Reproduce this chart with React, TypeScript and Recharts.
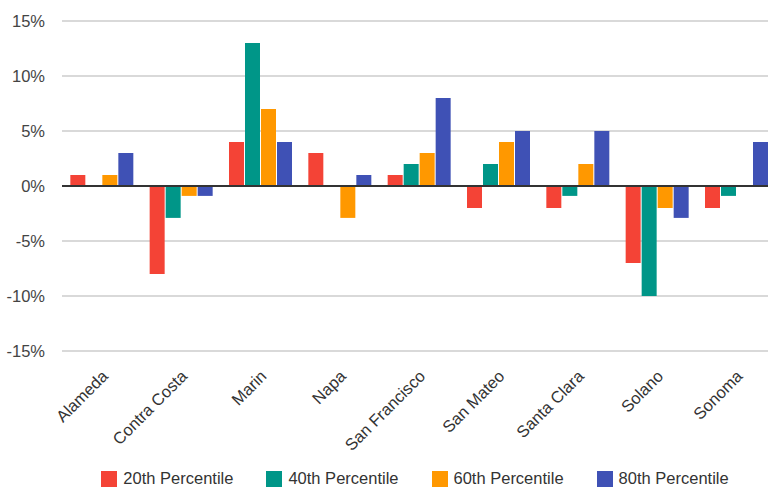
import {
  Bar,
  BarChart,
  CartesianGrid,
  Legend,
  ReferenceLine,
  XAxis,
  YAxis,
} from "recharts";

const counties = [
  "Alameda",
  "Contra Costa",
  "Marin",
  "Napa",
  "San Francisco",
  "San Mateo",
  "Santa Clara",
  "Solano",
  "Sonoma",
];

const p20 = [1, -8, 4, 3, 1, -2, -2, -7, -2];
const p40 = [0, -2.9, 13, 0, 2, 2, -0.9, -10, -0.9];
const p60 = [1, -0.9, 7, -2.9, 3, 4, 2, -2, 0];
const p80 = [3, -0.9, 4, 1, 8, 5, 5, -2.9, 4];

const yTicks = [-15, -10, -5, 0, 5, 10, 15];

const series = [
  { key: "p20", name: "20th Percentile", color: "#f44336" },
  { key: "p40", name: "40th Percentile", color: "#009688" },
  { key: "p60", name: "60th Percentile", color: "#ff9800" },
  { key: "p80", name: "80th Percentile", color: "#3f51b5" },
];

const data = counties.map((county, i) => ({
  county,
  p20: p20[i],
  p40: p40[i],
  p60: p60[i],
  p80: p80[i],
}));

const font = '"Liberation Sans", Arial, sans-serif';

function LegendRow() {
  return (
    <div
      style={{
        display: "flex",
        justifyContent: "center",
        alignItems: "center",
        height: 21,
        fontFamily: font,
        fontSize: 16.5,
        color: "#333",
      }}
    >
      {series.map((s, i) => (
        <div
          key={s.key}
          style={{
            display: "flex",
            alignItems: "center",
            marginRight: i < series.length - 1 ? 33 : 0,
          }}
        >
          <span
            style={{
              width: 16,
              height: 16,
              background: s.color,
              display: "inline-block",
              marginRight: 6,
            }}
          />
          <span>{s.name}</span>
        </div>
      ))}
    </div>
  );
}

export default function App() {
  return (
    <div style={{ width: 768, height: 489, fontFamily: font, overflow: "hidden" }}>
      <style>{`body{margin:0}`}</style>
      <BarChart
        width={768}
        height={489}
        data={data}
        margin={{ top: 21, right: -8, left: 0, bottom: 0 }}
        barCategoryGap="10.5%"
        barGap={1}
      >
        <CartesianGrid vertical={false} stroke="#cccccc" strokeWidth={1.5} />
        <XAxis
          dataKey="county"
          interval={0}
          height={117}
          tickLine={false}
          axisLine={false}
          tickSize={0}
          tickMargin={18}
          angle={-45}
          textAnchor="end"
          tick={{ fontSize: 16.5, fill: "#333", fontFamily: font, dx: -1 }}
        />
        <YAxis
          width={62}
          domain={[-15, 15]}
          ticks={yTicks}
          tickFormatter={(v) => `${v}%`}
          axisLine={false}
          tickLine={false}
          tickSize={0}
          tickMargin={17}
          tick={{ fontSize: 16.5, fill: "#444", fontFamily: font }}
        />
        <Legend
          verticalAlign="bottom"
          content={() => <LegendRow />}
          wrapperStyle={{ left: 62, width: 706, bottom: 0 }}
        />
        {series.map((s) => (
          <Bar
            key={s.key}
            dataKey={s.key}
            name={s.name}
            fill={s.color}
            isAnimationActive={false}
          />
        ))}
        <ReferenceLine y={0} stroke="#333333" strokeWidth={2} />
      </BarChart>
    </div>
  );
}
